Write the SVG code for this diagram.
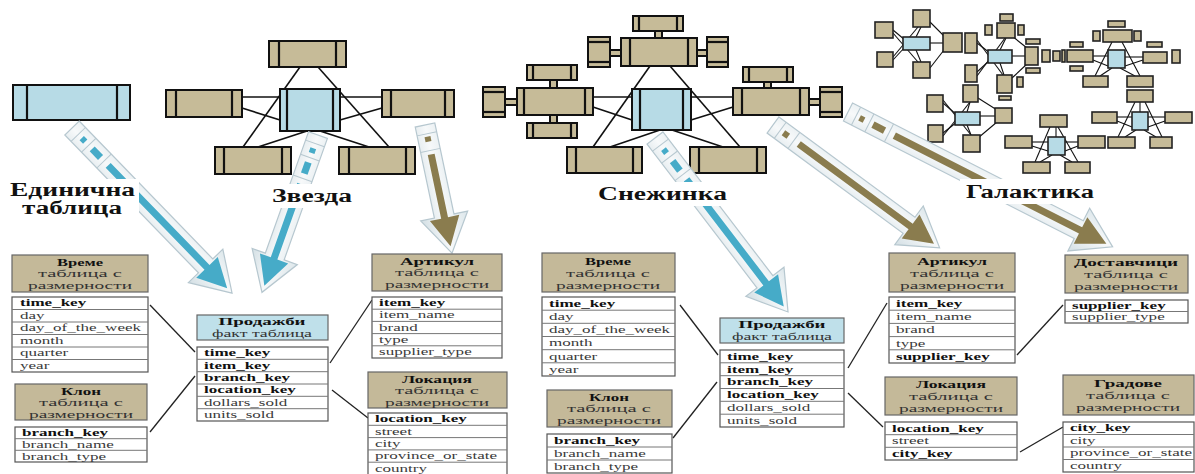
<svg xmlns="http://www.w3.org/2000/svg" width="1195" height="474" viewBox="0 0 1195 474">
  <defs>
    <linearGradient id="ribbon" x1="0" y1="0" x2="0" y2="1">
      <stop offset="0" stop-color="#dde7eb"/>
      <stop offset="0.5" stop-color="#f7f9fa"/>
      <stop offset="1" stop-color="#d3dfe4"/>
    </linearGradient>
  </defs>
  <style>
    .box{fill:#c6bb98;stroke:#111;stroke-width:2}
    .fbox{fill:#b7dbe6;stroke:#111;stroke-width:2}
    .bar{stroke:#111;stroke-width:2.2}
    .lnk{stroke:#111;stroke-width:1.6;fill:none}
    .gb{fill:#c6bb98;stroke:#222;stroke-width:1.6}
    .gc{fill:#b7dbe6;stroke:#222;stroke-width:1.6}
    .gl{stroke:#111;stroke-width:1.1}
    .rib{fill:url(#ribbon);stroke:#b6c7cf;stroke-width:1.2}
    .sep{stroke:#b6c7cf;stroke-width:1}
    .blue{fill:#46abc8}
    .olive{fill:#8a7c4e}
    .hd{fill:#c4b999;stroke:#666;stroke-width:1.2}
    .hdf{fill:#bfe0ea;stroke:#666;stroke-width:1.2}
    .fld{fill:#fff;stroke:#555;stroke-width:1.2}
    .row{stroke:#777;stroke-width:1}
    .t{font-family:"Liberation Serif","DejaVu Serif",serif;font-size:11px;fill:#3a3a3a}
    .k{font-weight:bold;fill:#111}
    .h{font-family:"Liberation Serif","DejaVu Serif",serif;font-size:10px;text-anchor:middle;fill:#333}
    .hb{font-weight:bold;fill:#111}
    .lbl{font-family:"Liberation Serif","DejaVu Serif",serif;font-weight:bold;font-size:18px;fill:#111}
    .con{stroke:#222;stroke-width:1.3}
  </style>

  <!-- single flat table -->
  <g id="single-table">
    <rect class="fbox" x="13" y="85" width="117" height="35"/>
    <line class="bar" x1="27" y1="85" x2="27" y2="120"/>
    <line class="bar" x1="117" y1="85" x2="117" y2="120"/>
  </g>

  <!-- star schema -->
  <g id="star">
    <g class="lnk">
      <line x1="300" y1="67" x2="243" y2="147"/>
      <line x1="318" y1="67" x2="389" y2="147"/>
      <line x1="242" y1="97" x2="280" y2="97"/>
      <line x1="242" y1="108" x2="280" y2="120"/>
      <line x1="340" y1="97" x2="382" y2="97"/>
      <line x1="340" y1="120" x2="382" y2="108"/>
      <line x1="307" y1="131" x2="258" y2="147"/>
      <line x1="320" y1="131" x2="369" y2="147"/>
    </g>
    <rect class="box" x="269" y="41" width="77" height="26"/>
    <line class="bar" x1="279" y1="41" x2="279" y2="67"/><line class="bar" x1="336" y1="41" x2="336" y2="67"/>
    <rect class="box" x="166" y="90" width="76" height="27"/>
    <line class="bar" x1="176" y1="90" x2="176" y2="117"/><line class="bar" x1="232" y1="90" x2="232" y2="117"/>
    <rect class="box" x="382" y="90" width="72" height="27"/>
    <line class="bar" x1="391" y1="90" x2="391" y2="117"/><line class="bar" x1="445" y1="90" x2="445" y2="117"/>
    <rect class="box" x="215" y="147" width="76" height="27"/>
    <line class="bar" x1="224" y1="147" x2="224" y2="174"/><line class="bar" x1="282" y1="147" x2="282" y2="174"/>
    <rect class="box" x="339" y="147" width="76" height="27"/>
    <line class="bar" x1="349" y1="147" x2="349" y2="174"/><line class="bar" x1="406" y1="147" x2="406" y2="174"/>
    <rect class="fbox" x="280" y="89" width="60" height="42"/>
    <line class="bar" x1="287" y1="89" x2="287" y2="131"/><line class="bar" x1="333" y1="89" x2="333" y2="131"/>
  </g>

  <!-- snowflake schema -->
  <g id="snowflake">
    <g class="lnk">
      <line x1="650" y1="66" x2="593" y2="147"/>
      <line x1="670" y1="66" x2="740" y2="147"/>
      <line x1="593" y1="97" x2="632" y2="97"/>
      <line x1="593" y1="107" x2="632" y2="120"/>
      <line x1="691" y1="97" x2="733" y2="97"/>
      <line x1="691" y1="120" x2="733" y2="107"/>
      <line x1="660" y1="130" x2="610" y2="147"/>
      <line x1="672" y1="130" x2="723" y2="147"/>
    </g>
    <!-- stubs -->
    <rect class="box" x="655" y="31" width="7" height="7" stroke-width="1.2"/>
    <rect class="box" x="610" y="50" width="11" height="6" stroke-width="1.2"/>
    <rect class="box" x="697" y="50" width="10" height="6" stroke-width="1.2"/>
    <rect class="box" x="550" y="80" width="7" height="8" stroke-width="1.2"/>
    <rect class="box" x="550" y="115" width="7" height="8" stroke-width="1.2"/>
    <rect class="box" x="505" y="99" width="12" height="6" stroke-width="1.2"/>
    <rect class="box" x="764" y="82" width="7" height="6" stroke-width="1.2"/>
    <rect class="box" x="809" y="99" width="11" height="6" stroke-width="1.2"/>

    <rect class="box" x="621" y="38" width="76" height="28"/>
    <line class="bar" x1="630" y1="38" x2="630" y2="66"/><line class="bar" x1="688" y1="38" x2="688" y2="66"/>
    <rect class="box" x="633" y="16" width="50" height="15"/>
    <line class="bar" x1="639" y1="16" x2="639" y2="31"/><line class="bar" x1="677" y1="16" x2="677" y2="31"/>
    <rect class="box" x="588" y="37" width="22" height="30"/>
    <line class="bar" x1="588" y1="42" x2="610" y2="42"/><line class="bar" x1="588" y1="62" x2="610" y2="62"/>
    <rect class="box" x="707" y="37" width="21" height="30"/>
    <line class="bar" x1="707" y1="42" x2="728" y2="42"/><line class="bar" x1="707" y1="62" x2="728" y2="62"/>

    <rect class="box" x="517" y="88" width="76" height="27"/>
    <line class="bar" x1="524" y1="88" x2="524" y2="115"/><line class="bar" x1="585" y1="88" x2="585" y2="115"/>
    <rect class="box" x="527" y="65" width="50" height="15"/>
    <line class="bar" x1="533" y1="65" x2="533" y2="80"/><line class="bar" x1="571" y1="65" x2="571" y2="80"/>
    <rect class="box" x="527" y="123" width="50" height="15"/>
    <line class="bar" x1="533" y1="123" x2="533" y2="138"/><line class="bar" x1="571" y1="123" x2="571" y2="138"/>
    <rect class="box" x="483" y="87" width="22" height="30"/>
    <line class="bar" x1="483" y1="92" x2="505" y2="92"/><line class="bar" x1="483" y1="112" x2="505" y2="112"/>

    <rect class="box" x="733" y="88" width="76" height="27"/>
    <line class="bar" x1="742" y1="88" x2="742" y2="115"/><line class="bar" x1="800" y1="88" x2="800" y2="115"/>
    <rect class="box" x="743" y="67" width="50" height="15"/>
    <line class="bar" x1="749" y1="67" x2="749" y2="82"/><line class="bar" x1="787" y1="67" x2="787" y2="82"/>
    <rect class="box" x="820" y="87" width="22" height="30"/>
    <line class="bar" x1="820" y1="92" x2="842" y2="92"/><line class="bar" x1="820" y1="112" x2="842" y2="112"/>

    <rect class="box" x="567" y="147" width="75" height="26"/>
    <line class="bar" x1="576" y1="147" x2="576" y2="173"/><line class="bar" x1="633" y1="147" x2="633" y2="173"/>
    <rect class="box" x="690" y="147" width="76" height="26"/>
    <line class="bar" x1="699" y1="147" x2="699" y2="173"/><line class="bar" x1="757" y1="147" x2="757" y2="173"/>

    <rect class="fbox" x="632" y="89" width="59" height="41"/>
    <line class="bar" x1="640" y1="89" x2="640" y2="130"/><line class="bar" x1="683" y1="89" x2="683" y2="130"/>
  </g>

  <!-- galaxy schema -->
  <g id="galaxy">
    <g class="gl">
      <!-- cluster A -->
      <line x1="893" y1="30" x2="905" y2="40"/><line x1="893" y1="60" x2="905" y2="47"/>
      <line x1="921" y1="27" x2="916" y2="37"/><line x1="921" y1="62" x2="916" y2="50"/>
      <line x1="930" y1="43" x2="943" y2="43"/>
      <line x1="893" y1="33" x2="918" y2="62"/><line x1="893" y1="57" x2="918" y2="27"/>
      <line x1="930" y1="22" x2="944" y2="36"/><line x1="930" y1="68" x2="944" y2="50"/>
      <!-- cluster B -->
      <line x1="977" y1="43" x2="990" y2="53"/><line x1="977" y1="72" x2="990" y2="60"/>
      <line x1="1006" y1="38" x2="1000" y2="50"/><line x1="1025" y1="56" x2="1012" y2="56"/>
      <line x1="1004" y1="75" x2="1000" y2="63"/>
      <line x1="977" y1="40" x2="1003" y2="75"/><line x1="977" y1="76" x2="1005" y2="38"/>
      <line x1="1012" y1="36" x2="1027" y2="48"/><line x1="1012" y1="78" x2="1027" y2="64"/>
      <!-- cluster C -->
      <line x1="943" y1="103" x2="957" y2="115"/><line x1="943" y1="133" x2="957" y2="122"/>
      <line x1="970" y1="102" x2="967" y2="112"/><line x1="971" y1="135" x2="967" y2="125"/>
      <line x1="980" y1="116" x2="995" y2="116"/>
      <line x1="943" y1="100" x2="971" y2="135"/><line x1="943" y1="136" x2="970" y2="102"/>
      <line x1="978" y1="98" x2="997" y2="110"/><line x1="978" y1="138" x2="997" y2="122"/>
      <!-- cluster D -->
      <line x1="1093" y1="56" x2="1108" y2="56"/><line x1="1125" y1="57" x2="1143" y2="57"/>
      <line x1="1093" y1="60" x2="1108" y2="66"/><line x1="1143" y1="60" x2="1125" y2="66"/>
      <line x1="1112" y1="42" x2="1095" y2="76"/><line x1="1122" y1="42" x2="1140" y2="76"/>
      <line x1="1112" y1="68" x2="1100" y2="76"/><line x1="1120" y1="68" x2="1135" y2="76"/>
      <!-- cluster E -->
      <line x1="1117" y1="117" x2="1132" y2="117"/><line x1="1148" y1="117" x2="1165" y2="117"/>
      <line x1="1117" y1="121" x2="1132" y2="127"/><line x1="1165" y1="121" x2="1148" y2="127"/>
      <line x1="1135" y1="102" x2="1118" y2="137"/><line x1="1145" y1="102" x2="1162" y2="137"/>
      <line x1="1136" y1="130" x2="1125" y2="137"/><line x1="1144" y1="130" x2="1156" y2="137"/>
      <line x1="1140" y1="102" x2="1140" y2="112"/>
      <!-- cluster F -->
      <line x1="1032" y1="142" x2="1048" y2="142"/><line x1="1065" y1="142" x2="1078" y2="142"/>
      <line x1="1032" y1="146" x2="1048" y2="151"/><line x1="1078" y1="146" x2="1065" y2="151"/>
      <line x1="1050" y1="127" x2="1035" y2="162"/><line x1="1058" y1="127" x2="1078" y2="162"/>
      <line x1="1052" y1="155" x2="1040" y2="162"/><line x1="1060" y1="155" x2="1072" y2="162"/>
      <line x1="1056" y1="127" x2="1056" y2="137"/>
    </g>
    <!-- cluster A boxes -->
    <rect class="gb" x="913" y="10" width="17" height="17"/>
    <rect class="gb" x="875" y="22" width="18" height="16"/>
    <rect class="gb" x="877" y="52" width="16" height="15"/>
    <rect class="gb" x="913" y="62" width="17" height="16"/>
    <rect class="gb" x="943" y="33" width="19" height="19"/>
    <rect class="gc" x="903" y="37" width="27" height="13"/>
    <!-- cluster B boxes -->
    <rect class="gb" x="1000" y="14" width="13" height="7"/>
    <rect class="gb" x="997" y="23" width="18" height="15"/>
    <rect class="gb" x="985" y="25" width="7" height="10"/>
    <rect class="gb" x="1018" y="25" width="6" height="10"/>
    <rect class="gb" x="965" y="33" width="12" height="20"/>
    <rect class="gb" x="965" y="65" width="12" height="17"/>
    <rect class="gb" x="1026" y="39" width="14" height="5"/>
    <rect class="gb" x="1025" y="47" width="13" height="18"/>
    <rect class="gb" x="1026" y="68" width="14" height="5"/>
    <rect class="gb" x="1042" y="50" width="8" height="12"/>
    <rect class="gb" x="1053" y="51" width="7" height="10"/>
    <rect class="gb" x="997" y="75" width="15" height="18"/>
    <rect class="gb" x="1017" y="77" width="6" height="10"/>
    <rect class="gb" x="999" y="96" width="12" height="4"/>
    <rect class="gc" x="988" y="50" width="24" height="13"/>
    <!-- cluster C boxes -->
    <rect class="gb" x="963" y="85" width="15" height="17"/>
    <rect class="gb" x="927" y="95" width="16" height="17"/>
    <rect class="gb" x="928" y="125" width="15" height="17"/>
    <rect class="gb" x="963" y="135" width="17" height="17"/>
    <rect class="gb" x="995" y="108" width="17" height="15"/>
    <rect class="gc" x="955" y="112" width="25" height="13"/>
    <!-- cluster D boxes -->
    <rect class="gb" x="1108" y="21" width="17" height="6"/>
    <rect class="gb" x="1103" y="30" width="29" height="12"/>
    <rect class="gb" x="1093" y="31" width="7" height="10"/>
    <rect class="gb" x="1134" y="31" width="7" height="10"/>
    <rect class="gb" x="1070" y="42" width="13" height="5"/>
    <rect class="gb" x="1067" y="50" width="26" height="12"/>
    <rect class="gb" x="1070" y="66" width="13" height="5"/>
    <rect class="gb" x="1062" y="50" width="3" height="12"/>
    <rect class="gb" x="1147" y="42" width="15" height="5"/>
    <rect class="gb" x="1143" y="52" width="24" height="11"/>
    <rect class="gb" x="1172" y="50" width="8" height="13"/>
    <rect class="gb" x="1083" y="76" width="25" height="11"/>
    <rect class="gb" x="1127" y="76" width="26" height="11"/>
    <rect class="gc" x="1108" y="50" width="17" height="18"/>
    <!-- cluster E boxes -->
    <rect class="gb" x="1127" y="90" width="26" height="12"/>
    <rect class="gb" x="1092" y="112" width="25" height="11"/>
    <rect class="gb" x="1165" y="112" width="27" height="11"/>
    <rect class="gb" x="1108" y="137" width="27" height="11"/>
    <rect class="gb" x="1150" y="137" width="22" height="11"/>
    <rect class="gc" x="1132" y="112" width="16" height="18"/>
    <!-- cluster F boxes -->
    <rect class="gb" x="1040" y="115" width="27" height="12"/>
    <rect class="gb" x="1005" y="136" width="27" height="12"/>
    <rect class="gb" x="1078" y="136" width="27" height="12"/>
    <rect class="gb" x="1023" y="162" width="27" height="11"/>
    <rect class="gb" x="1065" y="162" width="25" height="11"/>
    <rect class="gc" x="1048" y="137" width="17" height="18"/>
  </g>

  <!-- ribbon arrows: drawn along +x, then placed and turned -->
  <g id="arrows">
    <g transform="translate(72,128) rotate(45.9)">
      <polygon class="rib" points="0,-10 192,-10 192,-24 230,0 192,24 192,10 0,10"/>
      <line class="sep" x1="9" y1="-10" x2="9" y2="10"/><line class="sep" x1="24" y1="-10" x2="24" y2="10"/><line class="sep" x1="46" y1="-10" x2="46" y2="10"/>
      <rect class="blue" x="14" y="-3" width="5" height="6"/>
      <rect class="blue" x="29" y="-3.5" width="12" height="7"/>
      <polygon class="blue" points="52,-3.5 194,-3.5 194,-15 223,0 194,15 194,3.5 52,3.5"/>
    </g>
    <g transform="translate(318,135) rotate(109.6)">
      <polygon class="rib" points="0,-10 129,-10 129,-24 167,0 129,24 129,10 0,10"/>
      <line class="sep" x1="9" y1="-10" x2="9" y2="10"/><line class="sep" x1="24" y1="-10" x2="24" y2="10"/><line class="sep" x1="46" y1="-10" x2="46" y2="10"/>
      <rect class="blue" x="14" y="-3" width="5" height="6"/>
      <rect class="blue" x="29" y="-3.5" width="12" height="7"/>
      <polygon class="blue" points="52,-3.5 131,-3.5 131,-15 160,0 131,15 131,3.5 52,3.5"/>
    </g>
    <g transform="translate(425,125) rotate(78.1)">
      <polygon class="rib" points="0,-10 93,-10 93,-24 131,0 93,24 93,10 0,10"/>
      <line class="sep" x1="9" y1="-10" x2="9" y2="10"/><line class="sep" x1="26" y1="-10" x2="26" y2="10"/>
      <rect class="olive" x="12" y="-3" width="5" height="6"/>
      <polygon class="olive" points="30,-3.5 95,-3.5 95,-15 124,0 95,15 95,3.5 30,3.5"/>
    </g>
    <g transform="translate(655,138) rotate(52.6)">
      <polygon class="rib" points="0,-10 181,-10 181,-24 219,0 181,24 181,10 0,10"/>
      <line class="sep" x1="9" y1="-10" x2="9" y2="10"/><line class="sep" x1="24" y1="-10" x2="24" y2="10"/><line class="sep" x1="46" y1="-10" x2="46" y2="10"/>
      <rect class="blue" x="14" y="-3" width="5" height="6"/>
      <rect class="blue" x="29" y="-3.5" width="12" height="7"/>
      <polygon class="blue" points="52,-3.5 183,-3.5 183,-15 212,0 183,15 183,3.5 52,3.5"/>
    </g>
    <g transform="translate(773,125) rotate(36.4)">
      <polygon class="rib" points="0,-10 169,-10 169,-24 207,0 169,24 169,10 0,10"/>
      <line class="sep" x1="9" y1="-10" x2="9" y2="10"/><line class="sep" x1="26" y1="-10" x2="26" y2="10"/>
      <rect class="olive" x="13" y="-3" width="6" height="6"/>
      <polygon class="olive" points="32,-3.5 171,-3.5 171,-15 200,0 171,15 171,3.5 32,3.5"/>
    </g>
    <g transform="translate(848,112) rotate(27)">
      <polygon class="rib" points="0,-10 259,-10 259,-24 297,0 259,24 259,10 0,10"/>
      <line class="sep" x1="9" y1="-10" x2="9" y2="10"/><line class="sep" x1="24" y1="-10" x2="24" y2="10"/><line class="sep" x1="46" y1="-10" x2="46" y2="10"/>
      <rect class="olive" x="13" y="-3" width="5" height="6"/>
      <rect class="olive" x="28" y="-3.5" width="13" height="7"/>
      <polygon class="olive" points="52,-3.5 261,-3.5 261,-15 290,0 261,15 261,3.5 52,3.5"/>
    </g>
  </g>

  <!-- schema labels -->
  <g id="labels">
    <rect x="5" y="179" width="134" height="41" fill="#fff"/>
    <text class="lbl" x="10" y="196" font-size="16" textLength="125" lengthAdjust="spacingAndGlyphs">Единична</text>
    <text class="lbl" x="22" y="214" font-size="16" textLength="100" lengthAdjust="spacingAndGlyphs">таблица</text>
    <rect x="268" y="184" width="88" height="24" fill="#fff"/>
    <text class="lbl" x="272" y="202" textLength="80" lengthAdjust="spacingAndGlyphs">Звезда</text>
    <rect x="594" y="182" width="138" height="24" fill="#fff"/>
    <text class="lbl" x="598" y="200" textLength="129" lengthAdjust="spacingAndGlyphs">Снежинка</text>
    <rect x="960" y="179" width="140" height="25" fill="#fff"/>
    <text class="lbl" x="966" y="198" textLength="128" lengthAdjust="spacingAndGlyphs">Галактика</text>
  </g>

  <!-- table connectors -->
  <g id="connectors" class="con">
    <line x1="150" y1="305" x2="195" y2="352"/>
    <line x1="150" y1="432" x2="195" y2="376"/>
    <line x1="330" y1="363" x2="372" y2="300"/>
    <line x1="332" y1="390" x2="368" y2="418"/>
    <line x1="680" y1="305" x2="718" y2="355"/>
    <line x1="673" y1="438" x2="717" y2="382"/>
    <line x1="848" y1="368" x2="887" y2="303"/>
    <line x1="848" y1="393" x2="883" y2="427"/>
    <line x1="1017" y1="355" x2="1063" y2="305"/>
    <line x1="1020" y1="452" x2="1063" y2="427"/>
  </g>

  <!-- star schema tables -->
  <g id="time-a">
    <rect class="hd" x="12" y="255" width="136" height="37"/>
    <text class="h hb" x="80" y="265.5" textLength="46" lengthAdjust="spacingAndGlyphs">Време</text>
    <text class="h" x="80" y="277.2" textLength="84" lengthAdjust="spacingAndGlyphs">таблица с</text>
    <text class="h" x="80" y="288.9" textLength="104" lengthAdjust="spacingAndGlyphs">размерности</text>
    <rect class="fld" x="12" y="297" width="136" height="75"/>
    <g class="row"><line x1="12" y1="309.5" x2="148" y2="309.5"/><line x1="12" y1="322" x2="148" y2="322"/><line x1="12" y1="334.5" x2="148" y2="334.5"/><line x1="12" y1="347" x2="148" y2="347"/><line x1="12" y1="359.5" x2="148" y2="359.5"/></g>
    <g transform="translate(20,0) scale(1.55,1)"><text class="t k" y="306.5">time_key</text><text class="t" y="319">day</text><text class="t" y="331.5">day_of_the_week</text><text class="t" y="344">month</text><text class="t" y="356.5">quarter</text><text class="t" y="369">year</text></g>
  </g>
  <g id="branch-a">
    <rect class="hd" x="15" y="384" width="132" height="36"/>
    <text class="h hb" x="81" y="394.5" textLength="40" lengthAdjust="spacingAndGlyphs">Клон</text>
    <text class="h" x="81" y="406.2" textLength="84" lengthAdjust="spacingAndGlyphs">таблица с</text>
    <text class="h" x="81" y="417.9" textLength="104" lengthAdjust="spacingAndGlyphs">размерности</text>
    <rect class="fld" x="15" y="427" width="132" height="35"/>
    <g class="row"><line x1="15" y1="438.7" x2="147" y2="438.7"/><line x1="15" y1="450.3" x2="147" y2="450.3"/></g>
    <g transform="translate(22,0) scale(1.55,1)"><text class="t k" y="436.5">branch_key</text><text class="t" y="448">branch_name</text><text class="t" y="459.7">branch_type</text></g>
  </g>
  <g id="sales-a">
    <rect class="hdf" x="197" y="315" width="131" height="25"/>
    <text class="h hb" x="262" y="325.2" textLength="87" lengthAdjust="spacingAndGlyphs">Продажби</text>
    <text class="h" x="262" y="336.8" textLength="100" lengthAdjust="spacingAndGlyphs">факт таблица</text>
    <rect class="fld" x="197" y="347" width="131" height="74"/>
    <g class="row"><line x1="197" y1="359.3" x2="328" y2="359.3"/><line x1="197" y1="371.7" x2="328" y2="371.7"/><line x1="197" y1="384" x2="328" y2="384"/><line x1="197" y1="396.3" x2="328" y2="396.3"/><line x1="197" y1="408.7" x2="328" y2="408.7"/></g>
    <g transform="translate(204,0) scale(1.55,1)"><text class="t k" y="356.5">time_key</text><text class="t k" y="368.8">item_key</text><text class="t k" y="381.2">branch_key</text><text class="t k" y="393.5">location_key</text><text class="t" y="405.8">dollars_sold</text><text class="t" y="418.2">units_sold</text></g>
  </g>
  <g id="item-a">
    <rect class="hd" x="372" y="254" width="130" height="37"/>
    <text class="h hb" x="437" y="264.5" textLength="74" lengthAdjust="spacingAndGlyphs">Артикул</text>
    <text class="h" x="437" y="276.2" textLength="84" lengthAdjust="spacingAndGlyphs">таблица с</text>
    <text class="h" x="437" y="287.9" textLength="104" lengthAdjust="spacingAndGlyphs">размерности</text>
    <rect class="fld" x="372" y="297" width="130" height="61"/>
    <g class="row"><line x1="372" y1="309.2" x2="502" y2="309.2"/><line x1="372" y1="321.4" x2="502" y2="321.4"/><line x1="372" y1="333.6" x2="502" y2="333.6"/><line x1="372" y1="345.8" x2="502" y2="345.8"/></g>
    <g transform="translate(379,0) scale(1.55,1)"><text class="t k" y="306.3">item_key</text><text class="t" y="318.5">item_name</text><text class="t" y="330.7">brand</text><text class="t" y="342.9">type</text><text class="t" y="355.1">supplier_type</text></g>
  </g>
  <g id="location-a">
    <rect class="hd" x="368" y="372" width="139" height="36"/>
    <text class="h hb" x="437" y="382.5" textLength="70" lengthAdjust="spacingAndGlyphs">Локация</text>
    <text class="h" x="437" y="394.2" textLength="84" lengthAdjust="spacingAndGlyphs">таблица с</text>
    <text class="h" x="437" y="405.9" textLength="104" lengthAdjust="spacingAndGlyphs">размерности</text>
    <rect class="fld" x="368" y="413" width="139" height="62"/>
    <g class="row"><line x1="368" y1="425.3" x2="507" y2="425.3"/><line x1="368" y1="437.6" x2="507" y2="437.6"/><line x1="368" y1="449.9" x2="507" y2="449.9"/><line x1="368" y1="462.2" x2="507" y2="462.2"/></g>
    <g transform="translate(375,0) scale(1.55,1)"><text class="t k" y="422.5">location_key</text><text class="t" y="434.8">street</text><text class="t" y="447.1">city</text><text class="t" y="459.4">province_or_state</text><text class="t" y="471.7">country</text></g>
  </g>

  <!-- snowflake schema tables -->
  <g id="time-b">
    <rect class="hd" x="542" y="253" width="133" height="39"/>
    <text class="h hb" x="608" y="264.5" textLength="46" lengthAdjust="spacingAndGlyphs">Време</text>
    <text class="h" x="608" y="276.5" textLength="84" lengthAdjust="spacingAndGlyphs">таблица с</text>
    <text class="h" x="608" y="288.5" textLength="104" lengthAdjust="spacingAndGlyphs">размерности</text>
    <rect class="fld" x="542" y="297" width="133" height="79"/>
    <g class="row"><line x1="542" y1="310.2" x2="675" y2="310.2"/><line x1="542" y1="323.3" x2="675" y2="323.3"/><line x1="542" y1="336.5" x2="675" y2="336.5"/><line x1="542" y1="349.7" x2="675" y2="349.7"/><line x1="542" y1="362.8" x2="675" y2="362.8"/></g>
    <g transform="translate(549,0) scale(1.55,1)"><text class="t k" y="307">time_key</text><text class="t" y="320.2">day</text><text class="t" y="333.3">day_of_the_week</text><text class="t" y="346.5">month</text><text class="t" y="359.7">quarter</text><text class="t" y="372.8">year</text></g>
  </g>
  <g id="branch-b">
    <rect class="hd" x="547" y="390" width="125" height="37"/>
    <text class="h hb" x="609" y="400.5" textLength="40" lengthAdjust="spacingAndGlyphs">Клон</text>
    <text class="h" x="609" y="412.2" textLength="84" lengthAdjust="spacingAndGlyphs">таблица с</text>
    <text class="h" x="609" y="423.9" textLength="104" lengthAdjust="spacingAndGlyphs">размерности</text>
    <rect class="fld" x="547" y="434" width="125" height="39"/>
    <g class="row"><line x1="547" y1="447" x2="672" y2="447"/><line x1="547" y1="460" x2="672" y2="460"/></g>
    <g transform="translate(554,0) scale(1.55,1)"><text class="t k" y="444">branch_key</text><text class="t" y="457">branch_name</text><text class="t" y="470">branch_type</text></g>
  </g>
  <g id="sales-b">
    <rect class="hdf" x="720" y="318" width="124" height="25"/>
    <text class="h hb" x="782" y="328.2" textLength="87" lengthAdjust="spacingAndGlyphs">Продажби</text>
    <text class="h" x="782" y="339.8" textLength="100" lengthAdjust="spacingAndGlyphs">факт таблица</text>
    <rect class="fld" x="720" y="350" width="124" height="77"/>
    <g class="row"><line x1="720" y1="362.8" x2="844" y2="362.8"/><line x1="720" y1="375.7" x2="844" y2="375.7"/><line x1="720" y1="388.5" x2="844" y2="388.5"/><line x1="720" y1="401.3" x2="844" y2="401.3"/><line x1="720" y1="414.2" x2="844" y2="414.2"/></g>
    <g transform="translate(727,0) scale(1.55,1)"><text class="t k" y="359.8">time_key</text><text class="t k" y="372.6">item_key</text><text class="t k" y="385.5">branch_key</text><text class="t k" y="398.3">location_key</text><text class="t" y="411.2">dollars_sold</text><text class="t" y="424">units_sold</text></g>
  </g>
  <g id="item-b">
    <rect class="hd" x="889" y="253" width="126" height="39"/>
    <text class="h hb" x="952" y="264.5" textLength="70" lengthAdjust="spacingAndGlyphs">Артикул</text>
    <text class="h" x="952" y="276.5" textLength="84" lengthAdjust="spacingAndGlyphs">таблица с</text>
    <text class="h" x="952" y="288.5" textLength="104" lengthAdjust="spacingAndGlyphs">размерности</text>
    <rect class="fld" x="889" y="297" width="126" height="66"/>
    <g class="row"><line x1="889" y1="310.2" x2="1015" y2="310.2"/><line x1="889" y1="323.4" x2="1015" y2="323.4"/><line x1="889" y1="336.6" x2="1015" y2="336.6"/><line x1="889" y1="349.8" x2="1015" y2="349.8"/></g>
    <g transform="translate(896,0) scale(1.55,1)"><text class="t k" y="307">item_key</text><text class="t" y="320.2">item_name</text><text class="t" y="333.4">brand</text><text class="t" y="346.6">type</text><text class="t k" y="359.8">supplier_key</text></g>
  </g>
  <g id="location-b">
    <rect class="hd" x="885" y="377" width="132" height="38"/>
    <text class="h hb" x="951" y="388" textLength="70" lengthAdjust="spacingAndGlyphs">Локация</text>
    <text class="h" x="951" y="400" textLength="84" lengthAdjust="spacingAndGlyphs">таблица с</text>
    <text class="h" x="951" y="411.8" textLength="104" lengthAdjust="spacingAndGlyphs">размерности</text>
    <rect class="fld" x="885" y="422" width="132" height="38"/>
    <g class="row"><line x1="885" y1="434.7" x2="1017" y2="434.7"/><line x1="885" y1="447.3" x2="1017" y2="447.3"/></g>
    <g transform="translate(892,0) scale(1.55,1)"><text class="t k" y="431.7">location_key</text><text class="t" y="444.3">street</text><text class="t k" y="457">city_key</text></g>
  </g>
  <g id="supplier-b">
    <rect class="hd" x="1065" y="255" width="123" height="38"/>
    <text class="h hb" x="1126" y="266" textLength="104" lengthAdjust="spacingAndGlyphs">Доставчици</text>
    <text class="h" x="1126" y="278" textLength="84" lengthAdjust="spacingAndGlyphs">таблица с</text>
    <text class="h" x="1126" y="289.8" textLength="104" lengthAdjust="spacingAndGlyphs">размерности</text>
    <rect class="fld" x="1065" y="300" width="123" height="23"/>
    <g class="row"><line x1="1065" y1="311.5" x2="1188" y2="311.5"/></g>
    <g transform="translate(1072,0) scale(1.55,1)"><text class="t k" y="309">supplier_key</text><text class="t" y="320.5">supplier_type</text></g>
  </g>
  <g id="city-b">
    <rect class="hd" x="1063" y="375" width="131" height="40"/>
    <text class="h hb" x="1128" y="387" textLength="68" lengthAdjust="spacingAndGlyphs">Градове</text>
    <text class="h" x="1128" y="399.2" textLength="84" lengthAdjust="spacingAndGlyphs">таблица с</text>
    <text class="h" x="1128" y="411" textLength="104" lengthAdjust="spacingAndGlyphs">размерности</text>
    <rect class="fld" x="1063" y="422" width="131" height="50"/>
    <g class="row"><line x1="1063" y1="434.5" x2="1194" y2="434.5"/><line x1="1063" y1="447" x2="1194" y2="447"/><line x1="1063" y1="459.5" x2="1194" y2="459.5"/></g>
    <g transform="translate(1070,0) scale(1.55,1)"><text class="t k" y="431.5">city_key</text><text class="t" y="444">city</text><text class="t" y="456.5">province_or_state</text><text class="t" y="469">country</text></g>
  </g>
</svg>
